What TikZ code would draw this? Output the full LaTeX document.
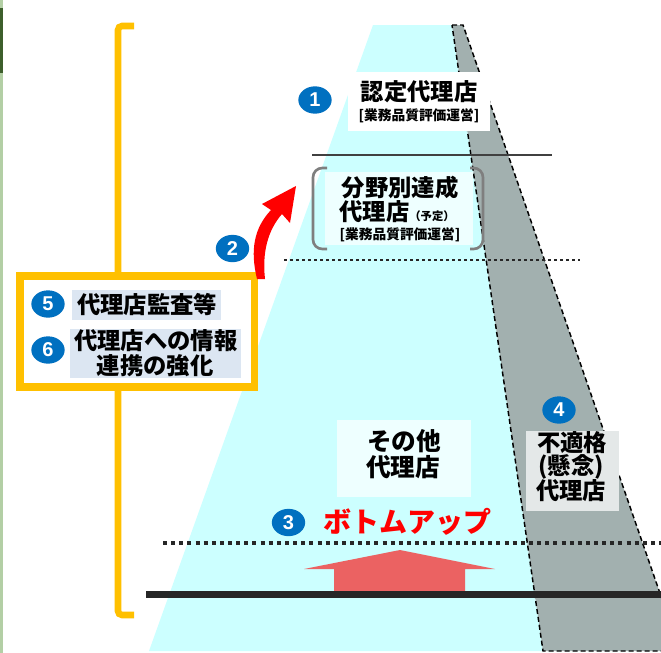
\documentclass[tikz,border=0pt]{standalone}
\usepackage{fontspec}
\newfontfamily\jp{Noto Sans CJK JP}
\newfontfamily\numf{Liberation Sans}
\usetikzlibrary{shapes.geometric}
\definecolor{cyanbg}{HTML}{CCFFFF}
\definecolor{bandgray}{HTML}{A2B0AF}
\definecolor{numblue}{HTML}{0070C0}
\definecolor{orng}{HTML}{FFC000}
\definecolor{salmon}{HTML}{EB6262}
\definecolor{hilite}{HTML}{DCE6F2}
\definecolor{lightbox}{HTML}{EEFFFF}
\definecolor{graybox}{HTML}{E4E8E8}
\definecolor{linec}{HTML}{262626}
\definecolor{greenl}{HTML}{B3CFA5}
\definecolor{greend}{HTML}{3D5F2C}
\definecolor{parengray}{HTML}{7F7F7F}
\definecolor{arrred}{HTML}{FF0000}
\tikzset{
 num/.style={ellipse, fill=numblue, text=white, inner sep=0pt, minimum width=25pt, minimum height=20.5pt, font=\numf\bfseries\fontsize{15}{15}\selectfont},
 big/.style={inner sep=0pt, font=\jp\bfseries\fontsize{17.5}{20}\selectfont},
 bigger/.style={inner sep=0pt, font=\jp\bfseries\fontsize{18.5}{21}\selectfont},
 small/.style={inner sep=0pt, font=\jp\bfseries\fontsize{10.3}{12}\selectfont},
 dotline/.style={linec, line width=1.9pt, dash pattern=on 1.9pt off 2.6pt},
 dotlinethick/.style={linec, line width=3pt, dash pattern=on 3pt off 3.1pt},
 banddash/.style={black, line width=1.1pt, dash pattern=on 3.75pt off 2.25pt},
}
\begin{document}
\begin{tikzpicture}[x=0.75pt,y=-0.75pt]
\useasboundingbox (0,0) rectangle (661,653);
\clip (0,0) rectangle (661,653);
\fill[white] (0,0) rectangle (661,653);
% left strip
\fill[greenl] (0,0) rectangle (3,653);
\fill[greend] (0,8) rectangle (3,73);
% cyan trapezoid
\fill[cyanbg] (373,25) -- (452,25) -- (543,651) -- (149,651) -- cycle;
% gray band
\fill[bandgray] (452,25) -- (463,25) -- (680,651) -- (543,651) -- cycle;
\draw[banddash] (452,25) -- (463,25) -- (680,651) -- (543,651) -- cycle;
% horizontal lines
\coordinate (l1a) at (312,155); \coordinate (l1b) at (552,155);
\draw[color=black!75, line width=2pt] (l1a) -- (l1b);
\coordinate (l2a) at (284,260); \coordinate (l2b) at (580,260);
\draw[dotline] (l2a) -- (l2b);
\coordinate (l3a) at (163,543); \coordinate (l3b) at (661,543);
\draw[dotlinethick] (l3a) -- (l3b);
% salmon up arrow
\fill[salmon] (334,595) -- (334,569) -- (304,569) -- (400,550) -- (495,569) -- (465,569) -- (465,595) -- cycle;
% thick base line
\coordinate (l4a) at (146,594.5); \coordinate (l4b) at (661,594.5);
\draw[linec, line width=5.25pt] (l4a) -- (l4b);
% orange bracket
\draw[orng, line width=4.9pt, rounded corners=3pt] (134,26) -- (118,26) -- (118,615) -- (134,615);
% orange frame
\draw[orng, line width=5.6pt, fill=white] (20,276) rectangle (254.3,387);
\fill[hilite] (72,290) rectangle (221,320);
\fill[hilite] (70,329) rectangle (241,378);
\node[big] (t5) at (147,305) {代理店監査等};
\node[big] (t6a) at (156,341) {代理店への情報};
\node[big] (t6b) at (155,366) {連携の強化};
% box 1
\fill[white] (348,72) rectangle (490,131);
\node[big] (t1a) at (419,92) {認定代理店};
\node[small] (t1b) at (419,116) {[業務品質評価運営]};
% box 2
\fill[lightbox] (325,172) rectangle (473,245);
\draw[parengray, line width=2pt, rounded corners=7pt] (327,168) -- (313,168) -- (313,249) -- (327,249);
\draw[parengray, line width=2pt, rounded corners=7pt] (470,168) -- (483,168) -- (483,249) -- (470,249);
\node[big] (t2a) at (400,188) {分野別達成};
\node[big] (t2b) at (397,212) {代理店{\fontsize{8.5}{10}\selectfont （予定）}};
\node[small] (t2c) at (400,235) {[業務品質評価運営]};
% box other
\fill[lightbox] (337,420) rectangle (471,497);
\node[bigger] (t3a) at (404,441) {その他};
\node[bigger] (t3b) at (403,467) {代理店};
% bottom-up text
\node[inner sep=0pt, text=arrred, font=\jp\bfseries\fontsize{21}{24}\selectfont] (t3c) at (407,522) {ボトムアップ};
% box 4
\fill[graybox] (526,431) rectangle (619,511);
\node[big] (t4a) at (572,443) {不適格};
\node[big] (t4b) at (571,467) {(懸念)};
\node[big] (t4c) at (571,491) {代理店};
% red curved arrow
\fill[arrred] (257,279) .. controls (250,250) and (254,228) .. (271,210) -- (262,204) -- (296,186) -- (290,223) -- (282,214) .. controls (268,230) and (262,252) .. (265,279) -- cycle;
% number badges
\node[num] (c1) at (315,100) {1};
\node[num] (c2) at (232.5,248.5) {2};
\node[num] (c3) at (288.5,522.5) {3};
\node[num] (c4) at (559,410) {4};
\node[num] (c5) at (48,304) {5};
\node[num] (c6) at (48,350) {6};
\end{tikzpicture}
\end{document}
